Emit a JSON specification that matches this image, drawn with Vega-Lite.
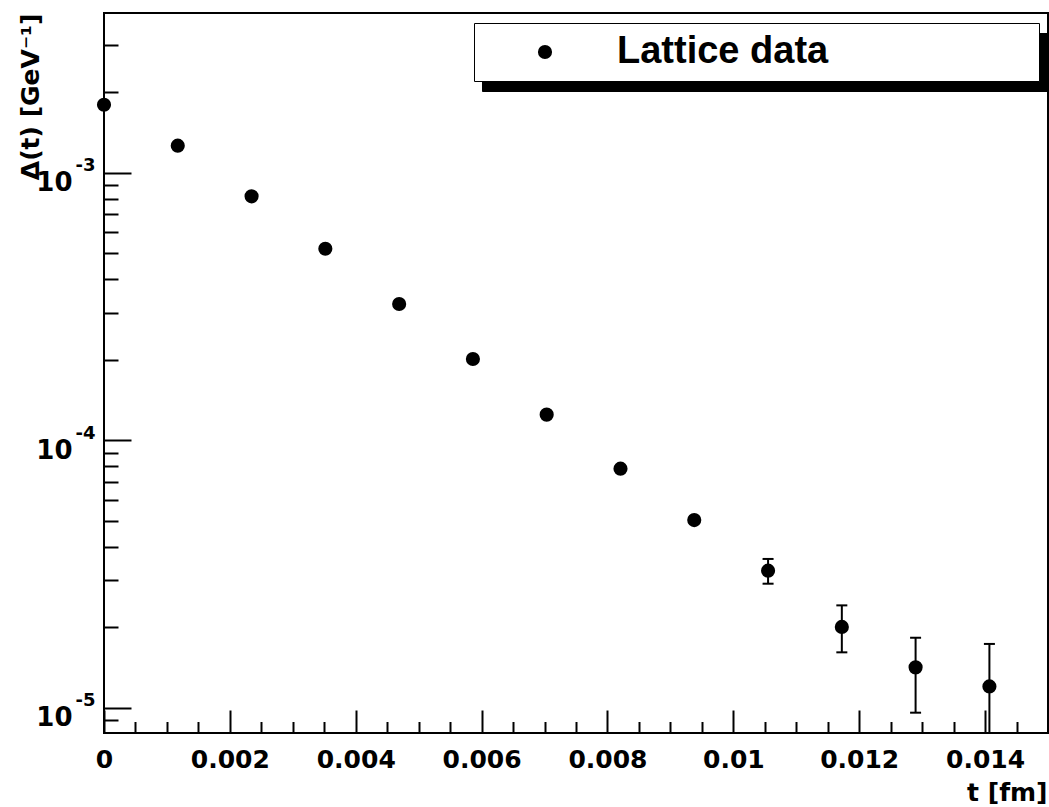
{
  "$schema": "https://vega.github.io/schema/vega-lite/v6.json",
  "autosize": "none",
  "padding": {"left": 104, "top": 13, "right": 1, "bottom": 74},
  "width": 944,
  "height": 720,
  "background": "white",
  "config": {
    "view": {"stroke": "black", "strokeWidth": 2},
    "axis": {"grid": false, "domain": false}
  },
  "data": {
    "values": [
      {"t": 0.0, "v": 0.001799, "series": "Lattice data"},
      {"t": 0.001172, "v": 0.001265, "series": "Lattice data"},
      {"t": 0.002345, "v": 0.000818, "series": "Lattice data"},
      {"t": 0.003517, "v": 0.000521, "series": "Lattice data"},
      {"t": 0.00469, "v": 0.0003237, "series": "Lattice data"},
      {"t": 0.005862, "v": 0.0002017, "series": "Lattice data"},
      {"t": 0.007034, "v": 0.0001249, "series": "Lattice data"},
      {"t": 0.008207, "v": 0.00007846, "series": "Lattice data"},
      {"t": 0.009379, "v": 0.0000504, "series": "Lattice data"},
      {"t": 0.010552, "v": 0.00003261, "lo": 0.00002914, "hi": 0.00003606, "series": "Lattice data"},
      {"t": 0.011724, "v": 0.00002009, "lo": 0.00001614, "hi": 0.00002418, "series": "Lattice data"},
      {"t": 0.012896, "v": 0.00001418, "lo": 0.0000096, "hi": 0.0000183, "series": "Lattice data"},
      {"t": 0.014069, "v": 0.00001204, "lo": 0.0000067, "hi": 0.00001735, "series": "Lattice data"}
    ]
  },
  "resolve": {"axis": {"x": "independent", "y": "independent"}},
  "layer": [
    {
      "mark": {"type": "point", "filled": true, "opacity": 1, "size": 200, "strokeWidth": 0},
      "encoding": {
        "x": {
          "field": "t", "type": "quantitative",
          "scale": {"domain": [0, 0.015], "nice": false, "zero": false},
          "axis": {
            "orient": "bottom",
            "values": [0, 0.002, 0.004, 0.006, 0.008, 0.01, 0.012, 0.014],
            "labelExpr": "format(datum.value, '~g')",
            "ticks": false, "labelFlush": false,
            "labelFont": "DejaVu Sans", "labelFontSize": 25, "labelFontWeight": "bold", "labelColor": "black",
            "labelPadding": 14,
            "title": "t [fm]", "titleFont": "DejaVu Sans", "titleFontSize": 25, "titleFontWeight": "bold", "titleColor": "black",
            "titleAnchor": "end", "titleAlign": "right", "titleBaseline": "alphabetic", "titleX": 943, "titleY": 67
          }
        },
        "y": {
          "field": "v", "type": "quantitative",
          "scale": {"type": "log", "domain": [0.00000806, 0.003963], "nice": false, "zero": false},
          "axis": {
            "orient": "left",
            "values": [0.00001, 0.0001, 0.001],
            "labelExpr": "'10'",
            "ticks": false, "labelFlush": false,
            "labelFont": "DejaVu Sans", "labelFontSize": 26, "labelFontWeight": "bold", "labelColor": "black",
            "labelAlign": "right", "labelBaseline": "alphabetic",
            "labelPadding": 32, "labelOffset": 18,
            "title": "Δ(t) [GeV⁻¹]", "titleFont": "DejaVu Sans", "titleFontSize": 25, "titleFontWeight": "bold", "titleColor": "black",
            "titleAnchor": "end", "titleAngle": 270, "titleAlign": "right", "titleBaseline": "alphabetic", "titleX": -66, "titleY": 0
          }
        },
        "color": {
          "field": "series", "type": "nominal",
          "scale": {"domain": ["Lattice data"], "range": ["black"]},
          "legend": {
            "orient": "none", "legendX": 378, "legendY": 20, "title": null,
            "fillColor": "black", "strokeColor": "black", "padding": 10,
            "symbolType": "circle", "symbolSize": 200, "symbolOffset": 42, "symbolFillColor": "black", "symbolStrokeWidth": 0,
            "labelOffset": 53, "labelLimit": 0,
            "labelFont": "Liberation Sans", "labelFontSize": 38, "labelFontWeight": "bold", "labelColor": "black",
            "labelExpr": "datum.label + '\u00a0\u00a0\u00a0\u00a0\u00a0\u00a0\u00a0\u00a0\u00a0\u00a0\u00a0\u00a0\u00a0\u00a0\u00a0\u00a0\u00a0\u00a0\u00a0\u200b'",
            "encode": {"legend": {"update": {"strokeWidth": {"value": 2}}}}
          }
        },
        "shape": {
          "field": "series", "type": "nominal",
          "scale": {"range": ["circle"]},
          "legend": {
            "orient": "none", "legendX": 370, "legendY": 10, "title": null,
            "fillColor": "white", "strokeColor": "black", "padding": 10,
            "symbolType": "circle", "symbolSize": 200, "symbolOffset": 42, "symbolFillColor": "black", "symbolStrokeWidth": 0,
            "labelOffset": 53, "labelLimit": 0,
            "labelFont": "Liberation Sans", "labelFontSize": 38, "labelFontWeight": "bold", "labelColor": "black",
            "labelExpr": "datum.label + '\u00a0\u00a0\u00a0\u00a0\u00a0\u00a0\u00a0\u00a0\u00a0\u00a0\u00a0\u00a0\u00a0\u00a0\u00a0\u00a0\u00a0\u00a0\u00a0\u200b'",
            "encode": {"legend": {"update": {"strokeWidth": {"value": 2}}}}
          }
        }
      }
    },
    {
      "transform": [{"filter": "isValid(datum.lo)"}],
      "mark": {"type": "rule", "color": "black", "strokeWidth": 2, "clip": true},
      "encoding": {
        "x": {
          "field": "t", "type": "quantitative",
          "scale": {"domain": [0, 0.015], "nice": false, "zero": false},
          "axis": {
            "orient": "bottom", "title": null, "labels": false,
            "values": [0, 0.002, 0.004, 0.006, 0.008, 0.01, 0.012, 0.014],
            "tickSize": -23, "tickWidth": 2, "tickColor": "black"
          }
        },
        "y": {
          "field": "lo", "type": "quantitative",
          "scale": {"type": "log", "domain": [0.00000806, 0.003963], "nice": false, "zero": false},
          "axis": {
            "orient": "left", "title": null, "labels": false,
            "values": [0.00001, 0.0001, 0.001],
            "tickSize": -27, "tickWidth": 2, "tickColor": "black"
          }
        },
        "y2": {"field": "hi"}
      }
    },
    {
      "transform": [{"filter": "isValid(datum.hi)"}],
      "mark": {"type": "tick", "orient": "horizontal", "color": "black", "size": 11, "thickness": 2, "opacity": 1, "clip": true},
      "encoding": {
        "x": {
          "field": "t", "type": "quantitative",
          "scale": {"domain": [0, 0.015], "nice": false, "zero": false},
          "axis": {
            "orient": "bottom", "title": null, "labels": false,
            "values": [0.0005, 0.001, 0.0015, 0.0025, 0.003, 0.0035, 0.0045, 0.005, 0.0055, 0.0065, 0.007, 0.0075, 0.0085, 0.009, 0.0095, 0.0105, 0.011, 0.0115, 0.0125, 0.013, 0.0135, 0.0145],
            "tickSize": -11.5, "tickWidth": 2, "tickColor": "black"
          }
        },
        "y": {
          "field": "hi", "type": "quantitative",
          "scale": {"type": "log", "domain": [0.00000806, 0.003963], "nice": false, "zero": false},
          "axis": {
            "orient": "left", "title": null, "labels": false,
            "values": [0.000009, 0.00002, 0.00003, 0.00004, 0.00005, 0.00006, 0.00007, 0.00008, 0.00009, 0.0002, 0.0003, 0.0004, 0.0005, 0.0006, 0.0007, 0.0008, 0.0009, 0.002, 0.003],
            "tickSize": -14, "tickWidth": 2, "tickColor": "black"
          }
        }
      }
    },
    {
      "transform": [{"filter": "isValid(datum.lo)"}],
      "mark": {"type": "tick", "orient": "horizontal", "color": "black", "size": 11, "thickness": 2, "opacity": 1, "clip": true},
      "encoding": {
        "x": {
          "field": "t", "type": "quantitative",
          "scale": {"domain": [0, 0.015], "nice": false, "zero": false},
          "axis": null
        },
        "y": {
          "field": "lo", "type": "quantitative",
          "scale": {"type": "log", "domain": [0.00000806, 0.003963], "nice": false, "zero": false},
          "axis": {
            "orient": "left", "title": null, "ticks": false, "labelFlush": false,
            "values": [0.00001, 0.0001, 0.001],
            "labelExpr": "datum.value < 0.00005 ? '-5' : datum.value < 0.0005 ? '-4' : '-3'",
            "labelFont": "DejaVu Sans", "labelFontSize": 18, "labelFontWeight": "bold", "labelColor": "black",
            "labelAlign": "right", "labelBaseline": "alphabetic",
            "labelPadding": 9, "labelOffset": -2
          }
        }
      }
    }
  ]
}
